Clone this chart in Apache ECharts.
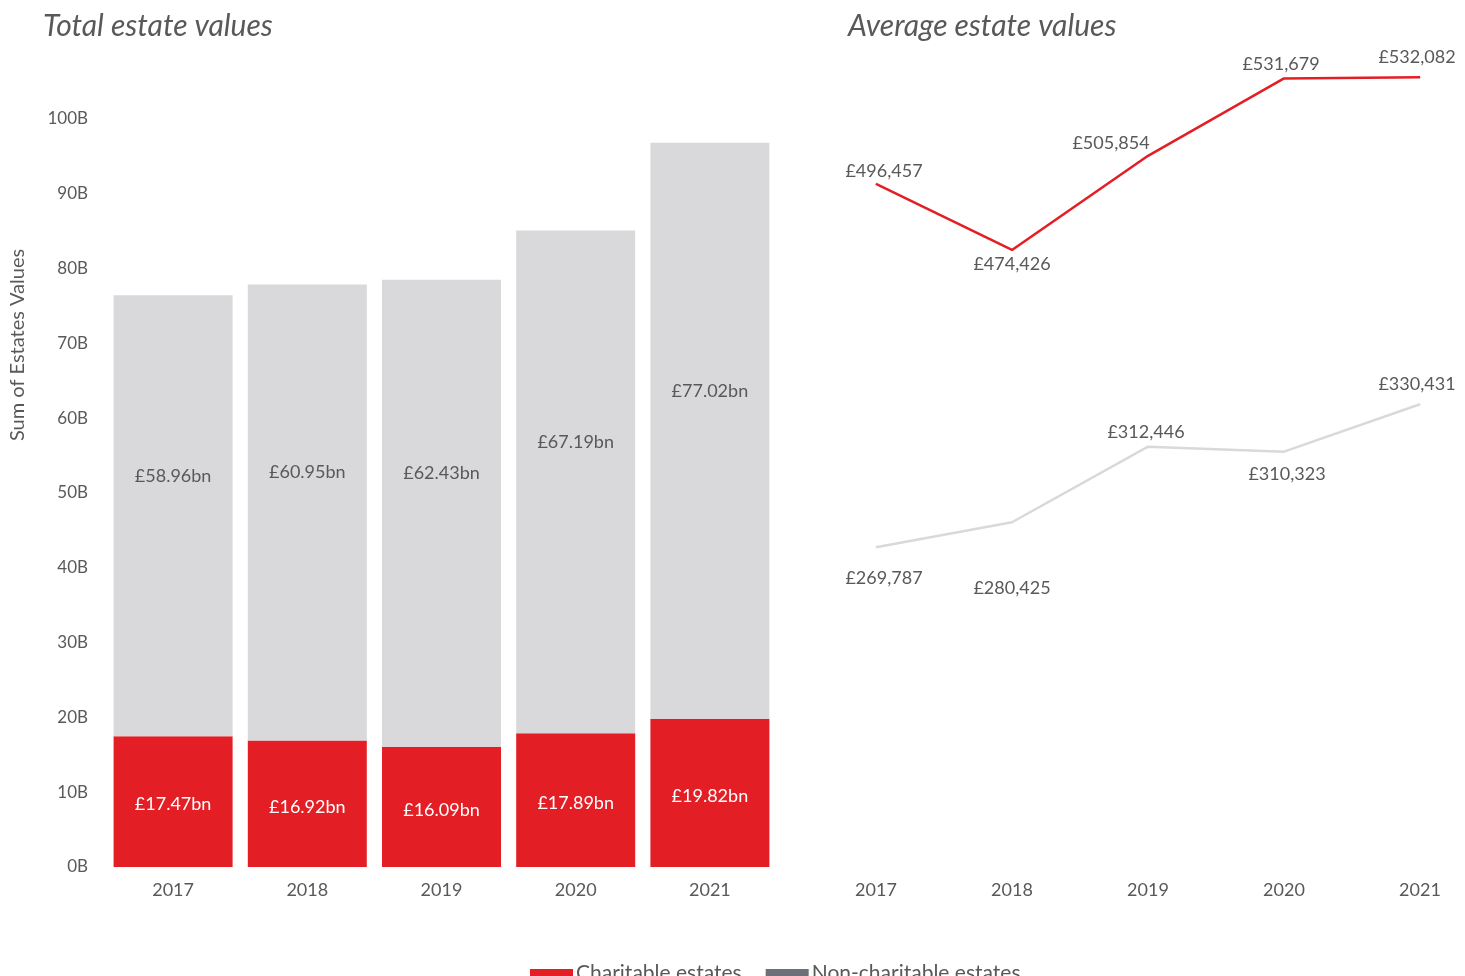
<!DOCTYPE html>
<html>
<head>
<meta charset="utf-8">
<script src="https://cdn.jsdelivr.net/npm/echarts@6/dist/echarts.min.js"></script>
<style>
html,body{margin:0;padding:0;background:#fff;}
#chart{width:1465px;height:976px;}
</style>
</head>
<body>
<div id="chart"></div>
<script>
// ---- data ----
var years = ['2017', '2018', '2019', '2020', '2021'];
var charitableTotal = [17.47, 16.92, 16.09, 17.89, 19.82];      // £bn
var nonCharitableTotal = [58.96, 60.95, 62.43, 67.19, 77.02];   // £bn
var charitableAvg = [496457, 474426, 505854, 531679, 532082];   // £
var nonCharitableAvg = [269787, 280425, 312446, 310323, 330431]; // £
var yTicks = [0, 10, 20, 30, 40, 50, 60, 70, 80, 90, 100];       // B

var FONT = 'Lato, "Open Sans", sans-serif';
var TXT = '#595959';
var RED = '#E31E24';
var LIGHT = '#D9D9DB';

function gbp(v){ return '£' + v.toLocaleString('en-GB'); }

// label placements (layout only)
var redLabelPos = [
  {position:'top', offset:[8, 2]},
  {position:'bottom', offset:[0, 0]},
  {position:'top', offset:[-37, 2]},
  {position:'top', offset:[-3, 0]},
  {position:'top', offset:[-3, -6]}
];
var greyLabelPos = [
  {position:'bottom', offset:[8, 16]},
  {position:'bottom', offset:[0, 51]},
  {position:'top', offset:[-2, 0]},
  {position:'bottom', offset:[3, 8]},
  {position:'top', offset:[-3, -6]}
];

function lineData(vals, pos){
  return vals.map(function(v, i){
    return {value: v, label: {position: pos[i].position, offset: pos[i].offset}};
  });
}

var chart = echarts.init(document.getElementById('chart'), null, {renderer:'canvas'});
var option = {
  animation: false,
  textStyle: {fontFamily: FONT},
  title: [
    {text: 'Total estate values', left: 38, top: 6,
     textStyle: {fontFamily: FONT, fontSize: 30, fontStyle: 'italic', fontWeight: 'normal', color: TXT}},
    {text: 'Average estate values', left: 843, top: 6,
     textStyle: {fontFamily: FONT, fontSize: 30, fontStyle: 'italic', fontWeight: 'normal', color: TXT}}
  ],
  graphic: [{
    type: 'text', x: 18, y: 345, rotation: Math.PI / 2,
    style: {text: 'Sum of Estates Values', fill: TXT, font: '20px ' + FONT,
            textAlign: 'center', textVerticalAlign: 'middle'}
  }],
  legend: {
    left: 525, top: 958, icon: 'rect', itemWidth: 43, itemHeight: 9, itemGap: 24,
    selectedMode: false,
    textStyle: {fontFamily: FONT, fontSize: 21, color: TXT, padding: [0, 0, 0, -2]},
    data: [
      {name: 'Charitable estates', itemStyle: {color: RED}},
      {name: 'Non-charitable estates', itemStyle: {color: '#6B7079'}}
    ]
  },
  grid: [
    {left: 106, right: 688, top: 119, bottom: 109},
    {left: 876, right: 45, top: 40, bottom: 109}
  ],
  xAxis: [
    {type: 'category', gridIndex: 0, data: years,
     axisLine: {show: false}, axisTick: {show: false},
     axisLabel: {color: TXT, fontSize: 18, margin: 14, fontFamily: FONT}},
    {type: 'category', gridIndex: 1, data: years, boundaryGap: false,
     axisLine: {show: false}, axisTick: {show: false},
     axisLabel: {color: TXT, fontSize: 18, margin: 14, fontFamily: FONT}}
  ],
  yAxis: [
    {type: 'value', gridIndex: 0, min: yTicks[0], max: yTicks[yTicks.length - 1], interval: 10,
     axisLine: {show: false}, axisTick: {show: false}, splitLine: {show: false},
     axisLabel: {color: TXT, fontSize: 17, margin: 18, fontFamily: FONT,
                 formatter: function(v){ return v + 'B'; }}},
    {type: 'value', gridIndex: 1, min: 268500, max: 544500, show: false, splitLine: {show: false}},
    {type: 'value', gridIndex: 1, min: 134300, max: 484800, show: false, splitLine: {show: false}}
  ],
  series: [
    {name: 'Charitable estates', type: 'bar', stack: 'tot', xAxisIndex: 0, yAxisIndex: 0,
     barWidth: 119, data: charitableTotal, itemStyle: {color: RED},
     label: {show: true, position: 'inside', offset: [0, 3], color: '#fff', fontSize: 18, fontFamily: FONT,
             formatter: function(p){ return '£' + p.value.toFixed(2) + 'bn'; }}},
    {name: 'Non-charitable estates', type: 'bar', stack: 'tot', xAxisIndex: 0, yAxisIndex: 0,
     barWidth: 119, data: nonCharitableTotal, itemStyle: {color: LIGHT},
     label: {show: true, position: 'inside', offset: [0, -40], color: TXT, fontSize: 18, fontFamily: FONT,
             formatter: function(p){ return '£' + p.value.toFixed(2) + 'bn'; }}},
    {name: 'Charitable estates', type: 'line', xAxisIndex: 1, yAxisIndex: 1,
     data: lineData(charitableAvg, redLabelPos),
     symbol: 'circle', symbolSize: 1, itemStyle: {color: RED},
     lineStyle: {color: RED, width: 2.5},
     label: {show: true, color: TXT, fontSize: 18, fontFamily: FONT,
             formatter: function(p){ return gbp(p.value); }}},
    {name: 'Non-charitable estates', type: 'line', xAxisIndex: 1, yAxisIndex: 2,
     data: lineData(nonCharitableAvg, greyLabelPos),
     symbol: 'circle', symbolSize: 1, itemStyle: {color: LIGHT},
     lineStyle: {color: LIGHT, width: 2.5},
     label: {show: true, color: TXT, fontSize: 18, fontFamily: FONT,
             formatter: function(p){ return gbp(p.value); }}}
  ]
};
chart.setOption(option);
</script>
</body>
</html>
